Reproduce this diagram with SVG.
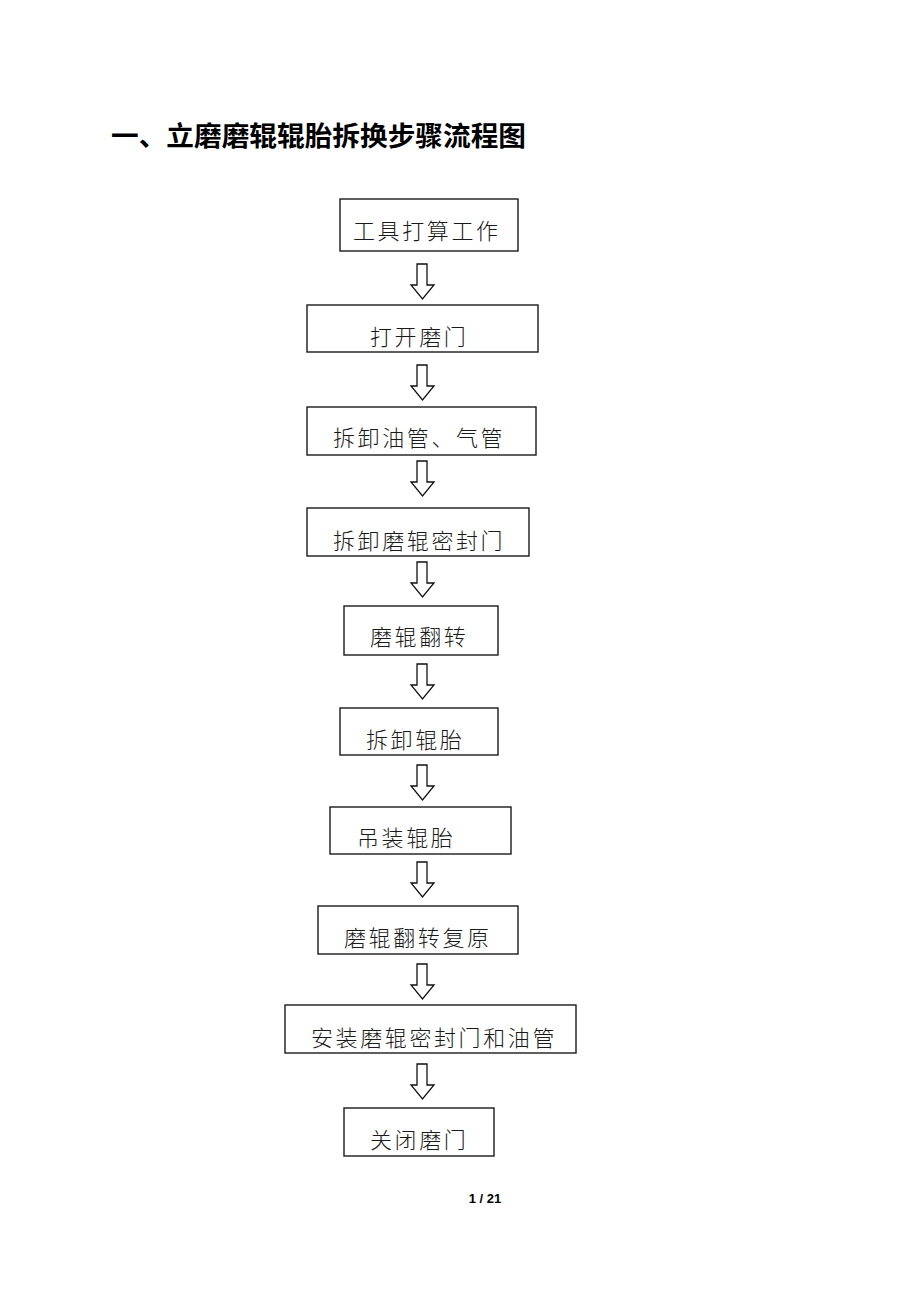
<svg xmlns="http://www.w3.org/2000/svg" width="920" height="1302" viewBox="0 0 920 1302">
<style>
.box{fill:#fff;stroke:#1a1a1a;stroke-width:1.4}
.lbl{font-family:"Noto Sans CJK SC","Noto Sans CJK JP",sans-serif;font-size:22px;fill:#1a1a1a;letter-spacing:2.6px;font-weight:300}
.arr{fill:#fff;stroke:#111;stroke-width:1.3;stroke-linejoin:miter}
.title{font-family:"Noto Sans CJK SC","Noto Sans CJK JP",sans-serif;font-size:27px;font-weight:bold;fill:#000}
.pg{font-family:"Liberation Sans",Arial,sans-serif;font-size:13px;font-weight:bold;fill:#000}
</style>
<defs>
<path id="arrow" class="arr" d="M417,0 H427 V21 H434 L422.5,35 L411,21 H417 Z"/>
</defs>
<rect width="920" height="1302" fill="#fff"/>
<text class="title" x="111" y="146" textLength="415" lengthAdjust="spacingAndGlyphs">一、立磨磨辊辊胎拆换步骤流程图</text>

<g id="n1"><rect class="box" x="340" y="199" width="178" height="52"/><text class="lbl" x="353" y="239">工具打算工作</text></g>
<g id="n2"><rect class="box" x="307" y="305" width="231" height="47"/><text class="lbl" x="370" y="345">打开磨门</text></g>
<g id="n3"><rect class="box" x="307" y="407" width="229" height="48"/><text class="lbl" x="333" y="446">拆卸油管、气管</text></g>
<g id="n4"><rect class="box" x="307" y="508" width="222" height="48"/><text class="lbl" x="333" y="549">拆卸磨辊密封门</text></g>
<g id="n5"><rect class="box" x="344" y="606" width="154" height="49"/><text class="lbl" x="370" y="645">磨辊翻转</text></g>
<g id="n6"><rect class="box" x="340" y="708" width="158" height="47"/><text class="lbl" x="366" y="748">拆卸辊胎</text></g>
<g id="n7"><rect class="box" x="330" y="807" width="181" height="47"/><text class="lbl" x="357" y="846">吊装辊胎</text></g>
<g id="n8"><rect class="box" x="318" y="906" width="200" height="48"/><text class="lbl" x="344" y="946">磨辊翻转复原</text></g>
<g id="n9"><rect class="box" x="285" y="1005" width="291" height="48"/><text class="lbl" x="311" y="1046">安装磨辊密封门和油管</text></g>
<g id="n10"><rect class="box" x="344" y="1108" width="150" height="48"/><text class="lbl" x="370" y="1148">关闭磨门</text></g>

<g id="connectors">
<use href="#arrow" y="264"/>
<use href="#arrow" y="365"/>
<use href="#arrow" y="461"/>
<use href="#arrow" y="562"/>
<use href="#arrow" y="664"/>
<use href="#arrow" y="765"/>
<use href="#arrow" y="862"/>
<use href="#arrow" y="964"/>
<use href="#arrow" y="1064"/>
</g>

<text class="pg" x="485" y="1203" text-anchor="middle">1 / 21</text>
</svg>
